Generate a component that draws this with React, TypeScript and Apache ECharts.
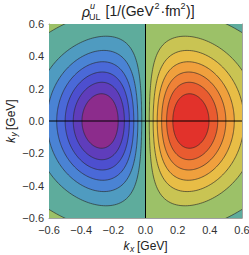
import React, { useEffect, useRef } from "react";
import * as echarts from "echarts";

// ---- data ----
const kxTicks = [-0.6, -0.4, -0.2, 0, 0.2, 0.4, 0.6];
const kyTicks = [-0.6, -0.4, -0.2, 0, 0.2, 0.4, 0.6];
// contour levels (relative to the peak value), mirrored for the negative lobe; 0 is also a contour
const contourLevels = [0.14, 0.28, 0.42, 0.56, 0.7, 0.84];
// lobe model: peak position, widths, and the node (sign change) ellipse
const peakKx = [0.275];
const lobeWidthKx = [0.305];
const lobeWidthKy = [0.358];
const nodeKx = [0.941];
const nodeKy = [0.71];
// band colours: negative side from most negative to just below 0, positive side from just above 0 to most positive
const negColors = ["#8c2c8c", "#5f3dbb", "#4d4fcf", "#4a69d8", "#4a83d4", "#4f9bc0", "#5eac9c"];
const posColors = ["#9cc168", "#c9c453", "#e8bd46", "#f0a03d", "#ef8237", "#e95b30", "#e2322b"];

function raw(kx: number, ky: number) {
  const sx = lobeWidthKx[0], sy = lobeWidthKy[0];
  const e = 1 - (kx * kx) / (nodeKx[0] * nodeKx[0]) - (ky * ky) / (nodeKy[0] * nodeKy[0]);
  return kx * Math.exp(-(kx * kx) / (2 * sx * sx) - (ky * ky) / (2 * sy * sy)) * e;
}
const norm = raw(peakKx[0], 0);
const field = (kx: number, ky: number) => raw(kx, ky) / norm;

function contour(level: number): number[][] {
  const pts: number[][] = [];
  const cx = peakKx[0];
  const N = 240;
  for (let i = 0; i < N; i++) {
    const t = (2 * Math.PI * i) / N;
    const dx = Math.cos(t), dy = Math.sin(t);
    let lo = 0, hi = 1.6;
    for (let k = 0; k < 45; k++) {
      const m = (lo + hi) / 2;
      if (field(cx + m * dx, m * dy) > level) lo = m; else hi = m;
    }
    pts.push([cx + lo * dx, lo * dy]);
  }
  return pts;
}

function nodeHalf(): number[][] {
  const pts: number[][] = [];
  const N = 120;
  for (let i = 0; i <= N; i++) {
    const t = -Math.PI / 2 + (Math.PI * i) / N;
    pts.push([nodeKx[0] * Math.cos(t), nodeKy[0] * Math.sin(t)]);
  }
  return pts;
}

const FONT = "'Liberation Sans', Arial, sans-serif";

export default function App() {
  const ref = useRef<HTMLDivElement>(null);
  useEffect(() => {
    if (!ref.current) return;
    const chart = echarts.init(ref.current, undefined, { renderer: "svg" });

    const polys: { pts: number[][]; fill: string; stroke: boolean }[] = [];
    // beyond the node the sign flips
    polys.push({ pts: [[-0.7, -0.7], [0, -0.7], [0, 0.7], [-0.7, 0.7]], fill: posColors[0], stroke: false });
    polys.push({ pts: [[0, -0.7], [0.7, -0.7], [0.7, 0.7], [0, 0.7]], fill: negColors[6], stroke: false });
    const half = nodeHalf();
    polys.push({ pts: half, fill: posColors[0], stroke: true });
    polys.push({ pts: half.map(([x, y]) => [-x, y]), fill: negColors[6], stroke: true });
    contourLevels.forEach((L, k) => {
      const p = contour(L);
      polys.push({ pts: p, fill: posColors[1 + k], stroke: true });
      polys.push({ pts: p.map(([x, y]) => [-x, y]), fill: negColors[5 - k], stroke: true });
    });

    const fmt = (v: number) => (v < -1e-9 ? "\u2212" : "") + Math.abs(v).toFixed(1);
    const axisCommon = {
      type: "value" as const,
      min: -0.6,
      max: 0.6,
      interval: 0.2,
      axisLine: { show: true, onZero: false, lineStyle: { color: "#a0a0a0", width: 1 } },
      axisTick: { show: true, inside: true, length: 4, lineStyle: { color: "#a0a0a0" } },
      minorTick: { show: true, splitNumber: 5, length: 2, lineStyle: { color: "#a0a0a0" } },
      splitLine: { show: false },
      minorSplitLine: { show: false },
    };

    const text = (x: number, y: number, t: string, size: number, italic = false, align = "left") => ({
      type: "text",
      x,
      y,
      silent: true,
      style: {
        text: t,
        fill: "#222",
        font: `${italic ? "italic " : ""}${size}px ${FONT}`,
        textAlign: align,
        textVerticalAlign: "middle",
      },
    });

    chart.setOption({
      animation: false,
      grid: { left: 49, top: 24, width: 193, height: 194, outerBoundsMode: "none" },
      xAxis: [
        {
          ...axisCommon,
          position: "bottom",
          axisLabel: { show: true, formatter: fmt, color: "#333", fontSize: 11, fontFamily: FONT, margin: 6 },
        },
        { ...axisCommon, position: "top", axisLabel: { show: false } },
      ],
      yAxis: [
        {
          ...axisCommon,
          position: "left",
          axisLabel: { show: true, formatter: fmt, color: "#333", fontSize: 11, fontFamily: FONT, margin: 5 },
        },
        { ...axisCommon, position: "right", axisLabel: { show: false } },
      ],
      series: [
        {
          type: "custom",
          clip: true,
          silent: true,
          xAxisIndex: 0,
          yAxisIndex: 0,
          data: polys.map((_, i) => [i]),
          renderItem: (params: any, api: any) => {
            const p = polys[params.dataIndex];
            return {
              type: "polygon",
              shape: { points: p.pts.map((q) => api.coord(q)) },
              style: {
                fill: p.fill,
                stroke: p.stroke ? "rgba(40,40,40,0.8)" : "none",
                lineWidth: p.stroke ? 0.8 : 0,
              },
            };
          },
        },
        {
          type: "line",
          silent: true,
          symbol: "none",
          data: [[kxTicks[0], 0], [kxTicks[kxTicks.length - 1], 0]],
          lineStyle: { color: "#000", width: 1 },
        },
        {
          type: "line",
          silent: true,
          symbol: "none",
          data: [[0, kyTicks[0]], [0, kyTicks[kyTicks.length - 1]]],
          lineStyle: { color: "#000", width: 1 },
        },
      ],
      graphic: [
        text(82, 12, "\u03c1", 14, true),
        text(90, 5.5, "u", 9, true),
        text(89, 16.5, "UL", 9),
        text(105.5, 11, "[1/(GeV", 14),
        text(154.5, 5.5, "2", 9),
        text(160.5, 11, "\u00b7fm", 14),
        text(180.5, 5.5, "2", 9),
        text(186, 11, ")]", 14),
        text(123.5, 246, "k", 12, true),
        text(130, 249, "x", 8.5, true),
        text(137, 246, "[GeV]", 12),
        {
          type: "group",
          x: 11,
          y: 121,
          rotation: Math.PI / 2,
          children: [
            text(-22, 0, "k", 12, true),
            text(-15.5, 3, "y", 8.5, true),
            text(-9, 0, "[GeV]", 12),
          ],
        },
      ],
    });
    return () => chart.dispose();
  }, []);
  return <div ref={ref} style={{ position: "absolute", left: 0, top: 0, width: 249, height: 255 }} />;
}
